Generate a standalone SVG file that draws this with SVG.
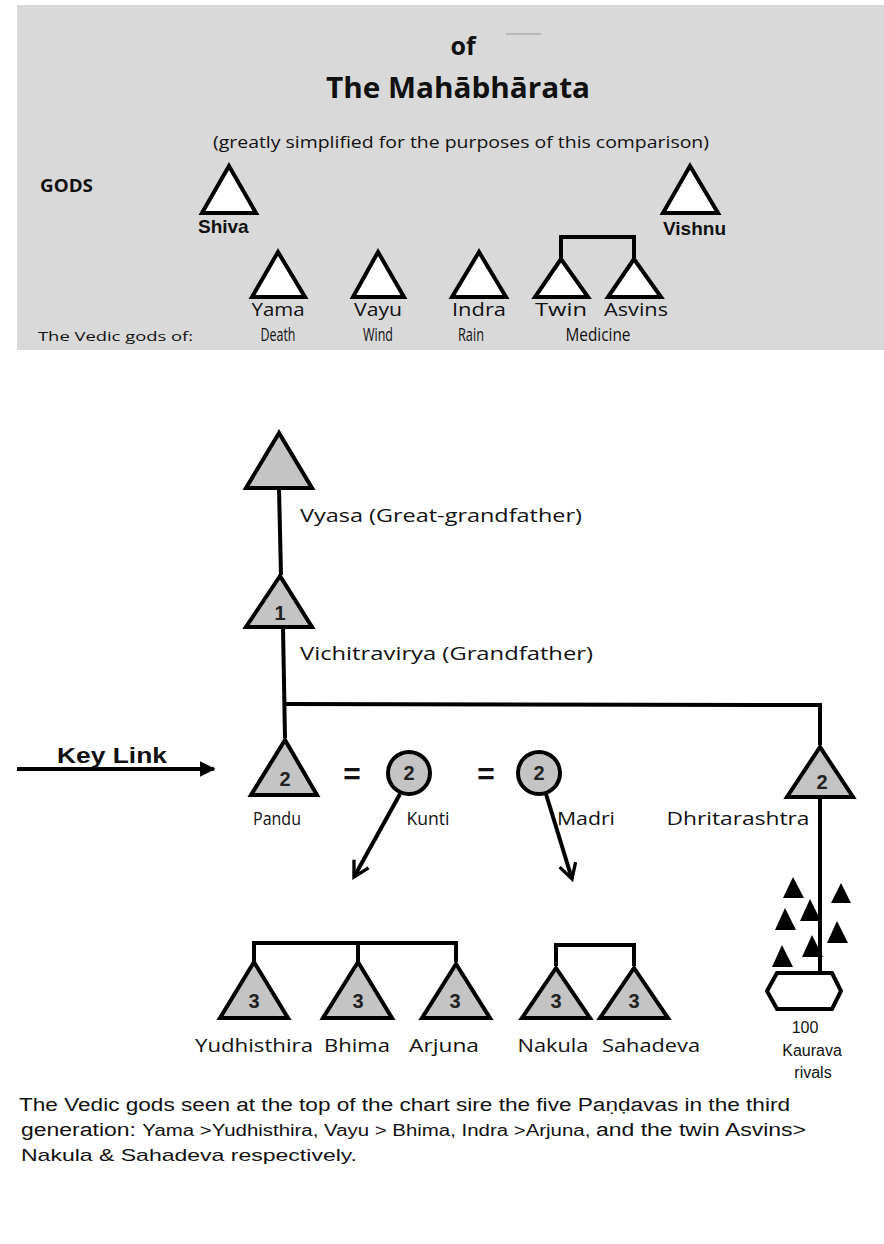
<svg xmlns="http://www.w3.org/2000/svg" width="884" height="1244" viewBox="0 0 884 1244">
<defs>
<marker id="ah" viewBox="0 0 10 10" refX="9" refY="5" markerWidth="4" markerHeight="4" orient="auto" markerUnits="strokeWidth">
<path d="M0,0 L10,5 L0,10 z" fill="#000"/>
</marker>
<marker id="chev" viewBox="0 0 12 12" refX="10" refY="6" markerWidth="5" markerHeight="5" orient="auto" markerUnits="strokeWidth">
<path d="M1,1 L10,6 L1,11" fill="none" stroke="#000" stroke-width="2"/>
</marker>
<style>
.tw{fill:#fff;stroke:#000;stroke-width:4;stroke-linejoin:miter}
.tg{fill:#c4c4c4;stroke:#000;stroke-width:4;stroke-linejoin:miter}
.kb{fill:#000}
.ln{fill:none;stroke:#000;stroke-width:4}
.cal{font-family:"Open Sans","Noto Sans",sans-serif;fill:#111}
.num{font-family:"Liberation Sans",Arial,sans-serif;font-weight:bold;font-size:20px;fill:#222;text-anchor:middle}
.ar{font-family:"Liberation Sans",Arial,sans-serif;fill:#111}
.lbl{font-family:"Open Sans","Noto Sans",sans-serif;font-size:19px;fill:#111;text-anchor:middle}
</style>
</defs>

<rect x="17" y="5" width="867" height="345" fill="#d9d9d9"/>
<line x1="506" y1="34" x2="541" y2="34" stroke="#9a9a9a" stroke-width="1"/>

<g id="title">
<text class="cal" x="463" y="55" font-size="25" font-weight="bold" text-anchor="middle">of</text>
<text class="cal" x="458" y="98" font-size="28" font-weight="bold" text-anchor="middle" textLength="264" lengthAdjust="spacingAndGlyphs">The Mahābhārata</text>
<text class="cal" x="461" y="148" font-size="17" text-anchor="middle" textLength="496" lengthAdjust="spacingAndGlyphs">(greatly simplified for the purposes of this comparison)</text>
<text class="cal" x="40" y="192" font-size="17" font-weight="bold" textLength="53" lengthAdjust="spacingAndGlyphs">GODS</text>
</g>

<g id="connectors">
<polyline class="ln" points="561,258 561,237 634,237 634,258"/>
<line class="ln" x1="279" y1="488" x2="281" y2="575"/>
<line class="ln" x1="283" y1="627" x2="285" y2="738"/>
<polyline class="ln" points="285,704 820,705 820,745"/>
<line x1="17" y1="769" x2="214" y2="769" stroke="#000" stroke-width="4" marker-end="url(#ah)"/>
<line x1="400" y1="794" x2="354" y2="877" stroke="#000" stroke-width="4" marker-end="url(#chev)"/>
<line x1="546" y1="794" x2="572" y2="879" stroke="#000" stroke-width="4" marker-end="url(#chev)"/>
<line class="ln" x1="820" y1="797" x2="820" y2="973"/>
<polyline class="ln" points="254,962 254,943 456,943 456,962"/>
<line class="ln" x1="358" y1="943" x2="358" y2="962"/>
<polyline class="ln" points="556,966 556,945 634,945 634,966"/>
</g>

<g id="shiva"><polygon class="tw" points="229,166 202,213 256,213"/>
<text class="ar" x="198" y="233" font-size="19" font-weight="bold">Shiva</text></g>
<g id="vishnu"><polygon class="tw" points="690,166 663,213 718,213"/>
<text class="ar" x="663" y="235" font-size="19" font-weight="bold">Vishnu</text></g>

<g id="yama"><polygon class="tw" points="278,252 252,297 305,297"/>
<text class="lbl" x="278" y="316" font-size="18" textLength="53" lengthAdjust="spacingAndGlyphs">Yama</text>
<text class="lbl" x="278" y="341" font-size="13" textLength="35" lengthAdjust="spacingAndGlyphs">Death</text></g>
<g id="vayu"><polygon class="tw" points="378,252 353,297 404,297"/>
<text class="lbl" x="378" y="316" font-size="18" textLength="48" lengthAdjust="spacingAndGlyphs">Vayu</text>
<text class="lbl" x="378" y="341" font-size="13" textLength="30" lengthAdjust="spacingAndGlyphs">Wind</text></g>
<g id="indra"><polygon class="tw" points="479,252 452,297 506,297"/>
<text class="lbl" x="479" y="316" font-size="18" textLength="54" lengthAdjust="spacingAndGlyphs">Indra</text>
<text class="lbl" x="471" y="341" font-size="13" textLength="26" lengthAdjust="spacingAndGlyphs">Rain</text></g>
<g id="twin"><polygon class="tw" points="561,259 535,297 588,297"/>
<text class="lbl" x="561" y="316" font-size="18" textLength="52" lengthAdjust="spacingAndGlyphs">Twin</text></g>
<g id="asvins"><polygon class="tw" points="634,259 608,297 661,297"/>
<text class="lbl" x="636" y="316" font-size="18" textLength="64" lengthAdjust="spacingAndGlyphs">Asvins</text>
<text class="lbl" x="598" y="341" font-size="13" textLength="65" lengthAdjust="spacingAndGlyphs">Medicine</text></g>
<text class="cal" x="38" y="341" font-size="13" textLength="155" lengthAdjust="spacingAndGlyphs">The Vedic  gods of:</text>

<g id="vyasa"><polygon class="tg" points="279,433 246,488 312,488"/>
<text class="cal" x="300" y="522" font-size="19" textLength="282" lengthAdjust="spacingAndGlyphs">Vyasa (Great-grandfather)</text></g>
<g id="vichitravirya"><polygon class="tg" points="280,576 246,627 312,627"/>
<text class="num" x="280" y="620">1</text>
<text class="cal" x="300" y="660" font-size="19" textLength="293" lengthAdjust="spacingAndGlyphs">Vichitravirya (Grandfather)</text></g>

<g id="keylink"><text class="ar" x="57" y="763" font-size="22" font-weight="bold" textLength="110" lengthAdjust="spacingAndGlyphs">Key Link</text></g>

<g id="pandu"><polygon class="tg" points="285,740 251,795 317,795"/>
<text class="num" x="285" y="786">2</text>
<text class="lbl" x="277" y="825" font-size="17" textLength="48" lengthAdjust="spacingAndGlyphs">Pandu</text></g>
<text class="ar" x="352" y="784" font-size="30" font-weight="bold" text-anchor="middle">=</text>
<g id="kunti"><circle cx="409" cy="773" r="21" fill="#c4c4c4" stroke="#000" stroke-width="4"/>
<text class="num" x="409" y="780">2</text>
<text class="lbl" x="428" y="825" font-size="17" textLength="43" lengthAdjust="spacingAndGlyphs">Kunti</text></g>
<text class="ar" x="486" y="784" font-size="30" font-weight="bold" text-anchor="middle">=</text>
<g id="madri"><circle cx="539" cy="773" r="21" fill="#c4c4c4" stroke="#000" stroke-width="4"/>
<text class="num" x="539" y="780">2</text>
<text class="lbl" x="586" y="825" font-size="17" textLength="58" lengthAdjust="spacingAndGlyphs">Madri</text></g>
<g id="dhritarashtra"><polygon class="tg" points="820,747 787,797 853,797"/>
<text class="num" x="822" y="789">2</text>
<text class="lbl" x="738" y="825" font-size="17" textLength="143" lengthAdjust="spacingAndGlyphs">Dhritarashtra</text></g>

<g id="kauravas">
<polygon class="kb" points="793,877 783,898 804,898"/>
<polygon class="kb" points="841,883 831,903 851,903"/>
<polygon class="kb" points="785,908 775,930 796,930"/>
<polygon class="kb" points="810,899 800,921 821,921"/>
<polygon class="kb" points="837,921 827,943 848,943"/>
<polygon class="kb" points="782,945 772,967 793,967"/>
<polygon class="kb" points="812,935 802,957 823,957"/>
<polygon points="767,991 777,973 832,973 841,991 832,1009 777,1009" fill="#fff" stroke="#000" stroke-width="4"/>
<text class="ar" x="805" y="1033" font-size="16" text-anchor="middle">100</text>
<text class="ar" x="812" y="1056" font-size="16" text-anchor="middle">Kaurava</text>
<text class="ar" x="813" y="1078" font-size="16" text-anchor="middle">rivals</text>
</g>

<g id="yudhisthira"><polygon class="tg" points="254,962 220,1018 288,1018"/>
<text class="num" x="254" y="1008">3</text>
<text class="lbl" x="254" y="1052" textLength="118" lengthAdjust="spacingAndGlyphs">Yudhisthira</text></g>
<g id="bhima"><polygon class="tg" points="358,962 323,1018 392,1018"/>
<text class="num" x="358" y="1008">3</text>
<text class="lbl" x="357" y="1052" textLength="66" lengthAdjust="spacingAndGlyphs">Bhima</text></g>
<g id="arjuna"><polygon class="tg" points="456,964 422,1018 490,1018"/>
<text class="num" x="455" y="1008">3</text>
<text class="lbl" x="444" y="1052" textLength="70" lengthAdjust="spacingAndGlyphs">Arjuna</text></g>
<g id="nakula"><polygon class="tg" points="556,968 522,1018 590,1018"/>
<text class="num" x="556" y="1008">3</text>
<text class="lbl" x="553" y="1052" textLength="71" lengthAdjust="spacingAndGlyphs">Nakula</text></g>
<g id="sahadeva"><polygon class="tg" points="634,968 600,1018 668,1018"/>
<text class="num" x="634" y="1008">3</text>
<text class="lbl" x="651" y="1052" textLength="98" lengthAdjust="spacingAndGlyphs">Sahadeva</text></g>

<g id="caption">
<text class="ar" x="19" y="1111" font-size="18" textLength="771" lengthAdjust="spacingAndGlyphs">The Vedic gods seen at the top of the chart sire the five Paṇḍavas in the third</text>
<text class="ar" x="21" y="1136" font-size="18" textLength="785" lengthAdjust="spacingAndGlyphs">generation: <tspan font-size="16">Yama &gt;Yudhisthira, Vayu &gt; Bhima, Indra &gt;Arjuna, </tspan>and the twin Asvins&gt;</text>
<text class="ar" x="21" y="1161" font-size="17" textLength="336" lengthAdjust="spacingAndGlyphs">Nakula &amp; Sahadeva respectively.</text>
</g>
</svg>
